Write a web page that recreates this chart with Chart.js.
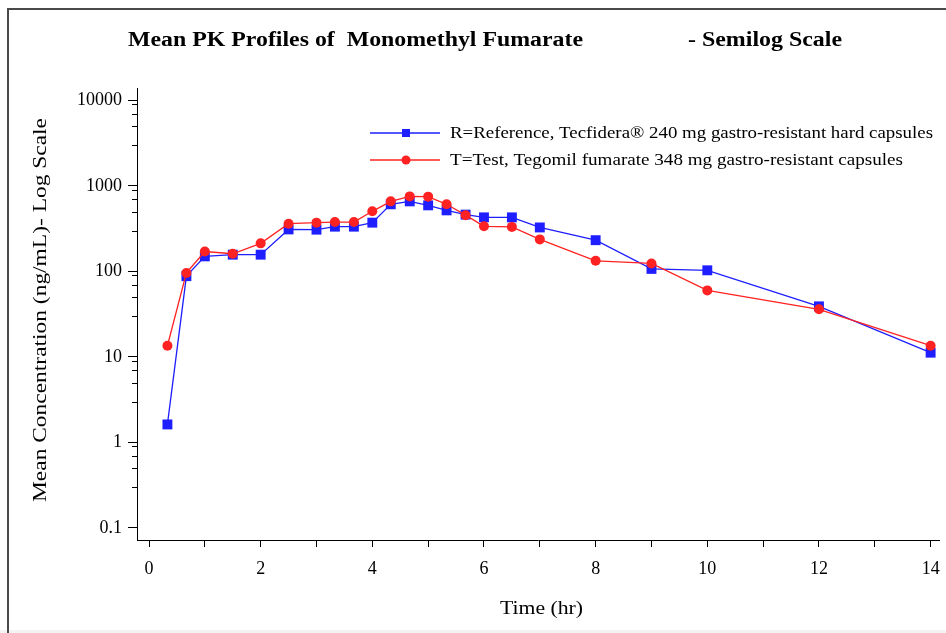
<!DOCTYPE html>
<html>
<head>
<meta charset="utf-8">
<script src="https://cdn.jsdelivr.net/npm/chart.js@4/dist/chart.umd.min.js"></script>
<style>
  html, body { margin: 0; padding: 0; background: #fff; }
  #pk { display: block; }
</style>
</head>
<body>
<canvas id="pk" width="946" height="633"></canvas>
<script>
  // ---- DATA ----
  const times = [0.33, 0.67, 1, 1.5, 2, 2.5, 3, 3.33, 3.67, 4, 4.33, 4.67, 5, 5.33, 5.67, 6, 6.5, 7, 8, 9, 10, 12, 14];
  const refConc = [1.62, 88, 150, 157, 157, 310, 308, 334, 334, 372, 610, 660, 593, 518, 462, 429, 429, 327, 232, 107, 103, 39, 11.2];
  const testConc = [13.5, 96, 171, 161, 213, 362, 372, 378, 378, 505, 660, 755, 750, 610, 455, 337, 332, 237, 133, 124, 60, 36, 13.5];
  const refLabel = 'R=Reference, Tecfidera\u00AE 240 mg gastro-resistant hard capsules';
  const testLabel = 'T=Test, Tegomil fumarate 348 mg gastro-resistant capsules';
  const xTicks = [0, 1, 2, 3, 4, 5, 6, 7, 8, 9, 10, 11, 12, 13, 14];
  const xTickLabels = ['0', '', '2', '', '4', '', '6', '', '8', '', '10', '', '12', '', '14'];
  const yTicks = [0.1, 1, 10, 100, 1000, 10000];
  const yTickLabels = ['0.1', '1', '10', '100', '1000', '10000'];
  const yMinorMults = [3, 5, 7, 9];

  const SERIF = '"Liberation Serif", "Times New Roman", serif';
  const BLUE = '#1e1eff';
  const RED = '#ff2222';

  // text stretched to the width it has in the picture
  function fitText(ctx, text, x, y, w, size, bold, rot) {
    ctx.save();
    ctx.font = (bold ? 'bold ' : '') + size + 'px ' + SERIF;
    const m = ctx.measureText(text).width;
    ctx.translate(x, y);
    if (rot) ctx.rotate(rot);
    ctx.scale(w / m, 1);
    ctx.fillStyle = '#000';
    ctx.textAlign = 'left';
    ctx.textBaseline = 'alphabetic';
    ctx.fillText(text, 0, 0);
    ctx.restore();
  }

  const decor = {
    id: 'decor',
    beforeDraw(chart) {
      const ctx = chart.ctx;
      ctx.save();
      ctx.fillStyle = '#fff';
      ctx.fillRect(0, 0, chart.width, chart.height);
      ctx.fillStyle = '#f3f3f3';
      ctx.fillRect(0, 630, chart.width, chart.height - 630);
      // frame (left + top)
      ctx.strokeStyle = '#4a4a4a';
      ctx.lineWidth = 2;
      ctx.beginPath();
      ctx.moveTo(8, chart.height);
      ctx.lineTo(8, 9);
      ctx.lineTo(chart.width, 9);
      ctx.stroke();
      ctx.restore();
    },
    afterDraw(chart) {
      const ctx = chart.ctx;
      const ys = chart.scales.y;
      const area = chart.chartArea;
      // minor ticks on the log axis
      ctx.save();
      ctx.strokeStyle = '#000';
      ctx.lineWidth = 1;
      ctx.beginPath();
      yTicks.slice(0, -1).forEach(d => {
        yMinorMults.forEach(m => {
          const py = Math.round(ys.getPixelForValue(d * m)) + 0.5;
          ctx.moveTo(area.left - 5, py);
          ctx.lineTo(area.left, py);
        });
      });
      ctx.stroke();
      ctx.restore();

      // title
      fitText(ctx, 'Mean PK Profiles of  Monomethyl Fumarate', 128, 46, 455, 20, true);
      fitText(ctx, '- Semilog Scale', 688, 46, 154, 20, true);
      // axis titles
      fitText(ctx, 'Mean Concentration (ng/mL)- Log Scale', 46, 502, 384, 18, false, -Math.PI / 2);
      fitText(ctx, 'Time (hr)', 500, 614, 83, 18, false);

      // legend
      const items = [
        { label: refLabel, color: BLUE, y: 133, w: 483, style: 'rect' },
        { label: testLabel, color: RED, y: 160, w: 453, style: 'circle' }
      ];
      items.forEach(it => {
        ctx.save();
        ctx.strokeStyle = it.color;
        ctx.fillStyle = it.color;
        ctx.lineWidth = 1.3;
        ctx.beginPath();
        ctx.moveTo(370, it.y);
        ctx.lineTo(440, it.y);
        ctx.stroke();
        if (it.style === 'rect') {
          ctx.fillRect(406 - 4, it.y - 4, 8, 8);
        } else {
          ctx.beginPath();
          ctx.arc(406, it.y, 4.5, 0, Math.PI * 2);
          ctx.fill();
        }
        ctx.restore();
        fitText(ctx, it.label, 450, it.y + 5, it.w, 16, false);
      });
    }
  };

  const ctx = document.getElementById('pk').getContext('2d');
  new Chart(ctx, {
    type: 'line',
    data: {
      datasets: [{
        label: refLabel,
        data: times.map((t, i) => ({ x: t, y: refConc[i] })),
        borderColor: BLUE,
        backgroundColor: BLUE,
        borderWidth: 1.3,
        pointStyle: 'rect',
        pointRadius: 7,
        pointBorderWidth: 0,
        tension: 0,
        order: 2
      }, {
        label: testLabel,
        data: times.map((t, i) => ({ x: t, y: testConc[i] })),
        borderColor: RED,
        backgroundColor: RED,
        borderWidth: 1.3,
        pointStyle: 'circle',
        pointRadius: 5,
        pointBorderWidth: 0,
        tension: 0,
        order: 1
      }]
    },
    options: {
      responsive: false,
      animation: false,
      devicePixelRatio: 1,
      layout: { padding: { left: 0, top: 88, right: 6, bottom: 0 } },
      plugins: { legend: { display: false }, title: { display: false }, tooltip: { enabled: false } },
      scales: {
        x: {
          type: 'linear',
          min: -0.215,
          max: 14.15,
          afterBuildTicks: s => { s.ticks = xTicks.map(v => ({ value: v })); },
          afterFit: s => { s.height = 93; s.paddingLeft = 0; s.paddingRight = 0; },
          ticks: {
            callback: (v) => xTickLabels[xTicks.indexOf(v)] ?? '',
            font: { family: SERIF, size: 18 },
            color: '#000',
            padding: 11,
            maxRotation: 0,
            autoSkip: false
          },
          grid: { drawOnChartArea: false, drawTicks: true, tickLength: 7, color: '#000', lineWidth: 1 },
          border: { color: '#000', width: 1 }
        },
        y: {
          type: 'logarithmic',
          min: 0.072,
          max: 14000,
          afterBuildTicks: s => { s.ticks = yTicks.map(v => ({ value: v })); },
          afterFit: s => { s.width = 137; s.paddingTop = 0; s.paddingBottom = 0; },
          ticks: {
            callback: (v) => yTickLabels[yTicks.indexOf(v)] ?? '',
            font: { family: SERIF, size: 18 },
            color: '#000',
            padding: 6,
            autoSkip: false
          },
          grid: { drawOnChartArea: false, drawTicks: true, tickLength: 9, color: '#000', lineWidth: 1 },
          border: { color: '#000', width: 1 }
        }
      }
    },
    plugins: [decor]
  });
</script>
</body>
</html>
